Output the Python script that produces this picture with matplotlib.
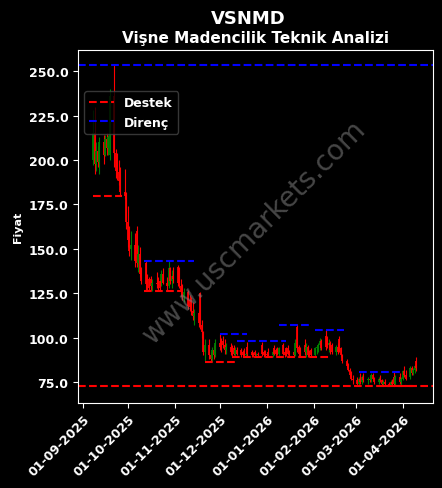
import matplotlib
matplotlib.use('Agg')
import matplotlib.pyplot as plt
import matplotlib.dates as mdates
import numpy as np
import pandas as pd

# daily candles, 08-09-2025 .. 10-04-2026 (business days)
start_day = '2025-09-08'
end_day = '2026-04-10'

opens = [200, 215, 198, 205, 199, 210, 203, 212, 207, 203, 236, 204, 202, 193, 190, 182, 180,  # sep
         165, 155, 150, 152, 160, 142, 147, 136, 142, 130, 133, 133, 129, 131, 130, 132, 132, 136, 131, 129, 139, 132, 135,  # oct
         140, 138, 129, 126, 123, 126, 121, 117, 115, 112, 114, 125, 107, 103, 92, 96, 90, 88, 93, 90,  # nov
         97, 99, 98, 96, 93, 95, 95, 94, 91, 93, 93, 92, 92, 90, 95, 92, 91, 92, 90, 91, 96, 92, 92,  # dec
         91, 92, 90, 94, 93, 93, 91, 96, 92, 94, 94, 92, 92, 90, 106, 95, 94, 96, 92, 95, 92, 93,  # jan
         90, 94, 95, 96, 98, 101, 100, 96, 97, 96, 92, 95, 99, 94, 90, 87, 84, 82, 79, 77,  # feb
         76, 74, 77, 75, 78, 76, 77, 76, 79, 77, 75, 77, 76, 74, 75, 74, 73.5, 75, 78, 74, 78, 75,  # mar
         77, 81, 79, 78, 83, 80, 82, 87]  # apr
highs = [228, 230, 210, 208, 213, 214, 214, 215, 214, 240, 253.5, 206, 204, 200, 196, 195, 182,
         174, 163, 160, 159, 163, 152, 151, 140, 143, 136, 134, 135, 133, 137, 134, 133, 138, 139, 134, 143, 140, 138, 140,
         141, 140, 133, 130, 128, 127, 124, 123, 120, 116, 115, 126, 110, 104, 99, 99, 92, 95, 96, 99,
         102, 100, 101, 99, 97, 97, 96, 96, 95, 95, 94, 93, 94, 92, 97.7, 93, 92, 93, 91.5, 92, 97.7, 93, 93,
         92, 94, 93, 96, 94, 95, 95, 97, 93, 95, 96, 93, 94, 99, 107.6, 96, 95, 99, 97, 96, 93, 94,
         95, 96, 97, 100, 99, 104.2, 101, 99, 98, 97, 96, 97, 101, 95, 91, 88, 86, 83, 81, 79,
         78, 78, 80, 79, 80, 78, 79, 80, 80, 78, 78, 79, 77, 76, 77, 75, 76, 77, 80.8, 79, 80, 78,
         82, 84, 82, 84, 84, 83, 85, 89]
lows = [197, 192, 194, 196, 192, 198, 202, 203, 203, 200, 196, 190, 189, 186, 180, 178, 161,
        151, 146, 144, 140, 140, 137, 134, 130, 127, 126.4, 127, 127, 126.5, 128, 127, 127, 129, 130, 127, 128, 130, 128, 131,
        129, 128, 124, 121, 120, 116, 115, 113, 110, 107, 106, 105, 100, 90, 87, 88, 86.4, 87, 88, 89,
        93, 92, 94, 91, 91, 90, 89, 90, 89.5, 90, 89, 89, 89.5, 89, 89.5, 89, 89, 89.5, 89, 89, 89.5, 89, 89.5,
        89, 89.5, 89, 90, 89.5, 90, 89, 90, 89, 89.5, 90, 89, 89.5, 89.5, 92, 89, 89.5, 90, 89, 89, 89, 89.5,
        89, 91, 92, 93, 93, 93, 94, 92, 91, 91, 90, 91, 92, 89, 86, 83, 81, 78, 76, 74,
        73, 73, 74, 74, 75, 74, 75, 75, 76, 74, 74, 75, 73, 72.8, 73, 72.8, 73, 73, 73, 73, 74, 73,
        76, 78, 76, 77, 79, 79, 80, 81]
closes = [215, 198, 205, 199, 210, 203, 212, 207, 213, 236, 204, 194, 193, 188, 182, 180, 165,
          155, 149, 152, 143, 142, 147, 136, 132, 130, 128, 128, 129, 131, 130, 128, 128, 136, 131, 129, 139, 132, 135, 133,
          131, 129, 126, 123, 126, 118, 117, 115, 112, 114, 108, 107, 103, 92, 96, 90, 88, 93, 90, 97,
          95, 94, 96, 93, 95, 92, 91, 91, 93, 91, 90, 90, 90, 91, 91, 90, 90, 90, 90.5, 90, 91, 90, 90,
          90, 90, 92, 91, 91, 91, 94, 91, 90, 91, 91, 90, 90, 97, 94, 91, 91, 92, 95, 90, 90, 90,
          94, 95, 96, 98, 94, 95, 96, 97, 93, 92, 95, 92, 94, 90, 87, 84, 82, 79, 77, 76,
          74, 77, 75, 78, 76, 77, 76, 79, 77, 75, 77, 76, 74, 75, 74, 73.5, 75, 74, 74, 78, 75, 77,
          81, 79, 77, 83, 80, 82, 84, 83]

# local support (Destek) / resistance (Direnç) segments
sup_starts = ['2025-09-08', '2025-10-12', '2025-11-21', '2025-12-09', '2026-03-19']
sup_ends = ['2025-09-27', '2025-11-05', '2025-12-11', '2026-02-11', '2026-04-10']
sup_levels = [180, 126.4, 86.4, 89, 72.8]
res_starts = ['2025-10-12', '2025-12-01', '2025-12-12', '2026-01-09', '2026-02-02', '2026-03-03']
res_ends = ['2025-11-14', '2025-12-19', '2026-01-14', '2026-01-30', '2026-02-21', '2026-03-30']
res_levels = [143, 102, 98.2, 107.4, 104.2, 80.8]
main_support = 72.6
main_resistance = 253.5

df = pd.DataFrame({'Open': opens, 'High': highs, 'Low': lows, 'Close': closes},
                  index=pd.bdate_range(start_day, end_day))

fig = plt.figure(figsize=(4.42, 4.89), dpi=100)
fig.patch.set_facecolor('black')
ax = fig.add_axes([0.1765, 0.174, 0.803, 0.722])
ax.set_facecolor('black')

up = df['Close'] >= df['Open']
colors = np.where(up, '#008000', '#ff0000')
ax.vlines(df.index, df['Low'], df['High'], colors=colors, linewidth=0.8)
ax.vlines(df.index, df[['Open', 'Close']].min(axis=1), df[['Open', 'Close']].max(axis=1),
          colors=colors, linewidth=1.3)

for s, e, lv in zip(sup_starts, sup_ends, sup_levels):
    ax.plot([pd.Timestamp(s), pd.Timestamp(e)], [lv, lv], color='red', linestyle='--', linewidth=1.5)
for s, e, lv in zip(res_starts, res_ends, res_levels):
    ax.plot([pd.Timestamp(s), pd.Timestamp(e)], [lv, lv], color='blue', linestyle='--', linewidth=1.5)

ax.axhline(main_support, color='red', linestyle='--', linewidth=1.5, label='Destek')
ax.axhline(main_resistance, color='blue', linestyle='--', linewidth=1.5, label='Direnç')

ax.set_xlim(pd.Timestamp('2025-08-29'), pd.Timestamp('2026-04-21'))
ax.set_ylim(63.3, 262.0)
ax.set_yticks([75, 100, 125, 150, 175, 200, 225, 250])
ax.yaxis.set_major_formatter(matplotlib.ticker.FormatStrFormatter('%.1f'))
ax.xaxis.set_major_locator(mdates.MonthLocator())
ax.xaxis.set_major_formatter(mdates.DateFormatter('%d-%m-%Y'))

for sp in ax.spines.values():
    sp.set_color('white')
ax.tick_params(colors='white', labelsize=9)
for lab in ax.get_xticklabels():
    lab.set_rotation(45)
    lab.set_ha('right')
    lab.set_rotation_mode('anchor')
    lab.set_fontweight('bold')
for lab in ax.get_yticklabels():
    lab.set_fontweight('bold')

ax.set_ylabel('Fiyat', color='white', fontsize=8, fontweight='bold')
ax.set_title('Vişne Madencilik Teknik Analizi', color='white', fontsize=11, fontweight='bold', pad=6)
fig.text(0.561, 0.962, 'VSNMD', color='white', fontsize=13, fontweight='bold', ha='center', va='center')

ax.text(0.496, 0.487, 'www.uscmarkets.com', transform=ax.transAxes, fontsize=20,
        color='gray', alpha=0.55, rotation=45, ha='center', va='center')

leg = ax.legend(loc='upper left', bbox_to_anchor=(0, 0.9), fontsize=9,
                facecolor='black', edgecolor='#444444', framealpha=0.8)
for t in leg.get_texts():
    t.set_color('white')
    t.set_fontweight('bold')

plt.savefig('out.png', dpi=100, facecolor=fig.get_facecolor())
